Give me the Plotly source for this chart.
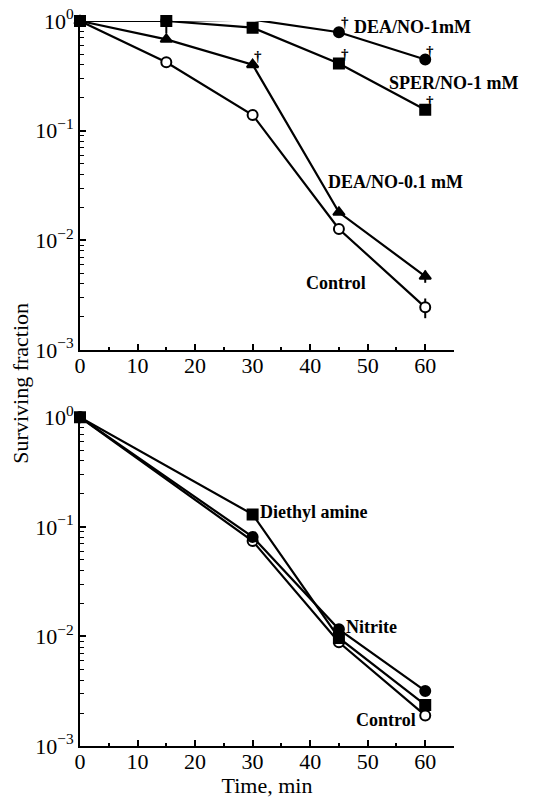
import math
import plotly.graph_objects as go

# ---- data ----
time_top = [0, 15, 30, 45, 60]
dea_1mM = [1.0, 1.0, 1.03, 0.79, 0.446]
sper_1mM = [1.0, 1.0, 0.87, 0.41, 0.155]
dea_01mM = [1.0, 0.68, 0.40, 0.018, 0.0047]
control_top = [1.0, 0.42, 0.139, 0.0127, 0.00245]
sper_err_minus = [0, 0.23, 0, 0, 0]
dea01_err = [0, 0, 0, 0, 0.0006]
control_top_err = [0, 0, 0, 0, 0.0005]

time_bot = [0, 30, 45, 60]
diethyl_amine = [1.0, 0.13, 0.0097, 0.00237]
nitrite = [1.0, 0.081, 0.0116, 0.00318]
control_bot = [1.0, 0.0743, 0.00885, 0.0019]

decade_vals = [1, 0.1, 0.01, 0.001]
decade_text = ["10<sup>0</sup>", "10<sup>\u22121</sup>", "10<sup>\u22122</sup>", "10<sup>\u22123</sup>"]
minor_vals = [m * d for d in [0.001, 0.01, 0.1] for m in range(2, 10)]
x_ticks = [0, 10, 20, 30, 40, 50, 60]
x_minor = [5, 15, 25, 35, 45, 55]

FONT = "Liberation Serif, Times New Roman, serif"
LW = 2.2
MS = 10

fig = go.Figure()

def add(x, y, symbol, fill, xa, ya, err=None, errm=None):
    kw = {}
    if err is not None or errm is not None:
        up = err if err is not None else [0] * len(x)
        dn = errm if errm is not None else up
        kw["error_y"] = dict(type="data", array=up, arrayminus=dn, symmetric=False,
                             color="black", thickness=2, width=0, visible=True)
    fig.add_trace(go.Scatter(
        x=x, y=y, mode="lines+markers", xaxis=xa, yaxis=ya,
        line=dict(color="black", width=LW),
        marker=dict(symbol=symbol, size=MS, color=fill, line=dict(color="black", width=2)),
        cliponaxis=False, showlegend=False, **kw))

# top panel
add(time_top, control_top, "circle", "white", "x", "y", err=control_top_err)
add(time_top, dea_01mM, "triangle-up", "black", "x", "y", err=dea01_err)
add(time_top, sper_1mM, "square", "black", "x", "y", err=[0] * 5, errm=sper_err_minus)
add(time_top, dea_1mM, "circle", "black", "x", "y")

# bottom panel
add(time_bot, control_bot, "circle", "white", "x2", "y2")
add(time_bot, nitrite, "circle", "black", "x2", "y2")
add(time_bot, diethyl_amine, "square", "black", "x2", "y2")

xaxis_common = dict(
    range=[0, 65], showline=True, linecolor="black", linewidth=2,
    ticks="inside", ticklen=6, tickwidth=1.5, tickcolor="black",
    tickvals=x_ticks, ticktext=[str(v) for v in x_ticks],
    minor=dict(tickvals=x_minor, ticks="inside", ticklen=3, tickwidth=1.5, tickcolor="black"),
    showgrid=False, zeroline=False, mirror=False, automargin=False,
    ticklabelstandoff=-5,
    tickfont=dict(family=FONT, size=22, color="black"),
)
yaxis_common = dict(
    type="log", range=[-3, 0], showline=True, linecolor="black", linewidth=2,
    ticks="inside", ticklen=6, tickwidth=1.5, tickcolor="black",
    tickvals=decade_vals, ticktext=decade_text,
    minor=dict(tickvals=minor_vals, ticks="inside", ticklen=4, tickwidth=1.2, tickcolor="black"),
    showgrid=False, zeroline=False, automargin=False,
    tickfont=dict(family=FONT, size=22, color="black"),
)

fig.update_layout(
    width=542, height=798,
    margin=dict(l=80, r=88, t=21, b=52),
    paper_bgcolor="white", plot_bgcolor="white",
    xaxis=dict(domain=[0, 1], anchor="y", **xaxis_common),
    yaxis=dict(domain=[0.5462, 1.0], anchor="x", **yaxis_common),
    xaxis2=dict(domain=[0, 1], anchor="y2",
                title=dict(text="Time, min", font=dict(family=FONT, size=22, color="black"), standoff=8),
                **xaxis_common),
    yaxis2=dict(domain=[0.0, 0.4534], anchor="x2", **yaxis_common),
)

lab_font = dict(family=FONT, size=18, color="black")
sym_font = dict(family=FONT, size=15, color="black")
L = math.log10
ann = [
    # top panel labels
    dict(x=47.2, y=L(0.877), text="<b>DEA/NO-1mM</b>", xref="x", yref="y", xanchor="left", font=lab_font),
    dict(x=53.4, y=L(0.271), text="<b>SPER/NO-1 mM</b>", xref="x", yref="y", xanchor="left", font=lab_font),
    dict(x=42.7, y=L(0.0337), text="<b>DEA/NO-0.1 mM</b>", xref="x", yref="y", xanchor="left", font=lab_font),
    dict(x=38.9, y=L(0.0041), text="<b>Control</b>", xref="x", yref="y", xanchor="left", font=lab_font),
    # significance marks
    dict(x=46.0, y=L(0.97), text="<b>\u2020</b>", xref="x", yref="y", font=sym_font),
    dict(x=60.9, y=L(0.53), text="<b>\u2020</b>", xref="x", yref="y", font=sym_font),
    dict(x=46.0, y=L(0.50), text="<b>\u2020</b>", xref="x", yref="y", font=sym_font),
    dict(x=60.9, y=L(0.185), text="<b>\u2020</b>", xref="x", yref="y", font=sym_font),
    dict(x=31.0, y=L(0.48), text="<b>\u2020</b>", xref="x", yref="y", font=sym_font),
    dict(x=29.9, y=L(1.30), text="<b>*</b>", xref="x", yref="y", font=sym_font),
    # bottom panel labels
    dict(x=30.9, y=L(0.137), text="<b>Diethyl amine</b>", xref="x2", yref="y2", xanchor="left", font=lab_font),
    dict(x=45.9, y=L(0.0121), text="<b>Nitrite</b>", xref="x2", yref="y2", xanchor="left", font=lab_font),
    dict(x=58.7, y=L(0.00173), text="<b>Control</b>", xref="x2", yref="y2", xanchor="right", font=lab_font),
    # shared y title
    dict(x=-0.16, y=0.5, xref="paper", yref="paper", text="Surviving fraction", textangle=-90,
         font=dict(family=FONT, size=22, color="black"), xanchor="center", yanchor="middle"),
]
for a in ann:
    a.setdefault("showarrow", False)
fig.update_layout(annotations=ann)

fig.write_html("out.html", config={"displayModeBar": False},
               post_script="document.body.style.margin='0';document.body.style.padding='0';")
